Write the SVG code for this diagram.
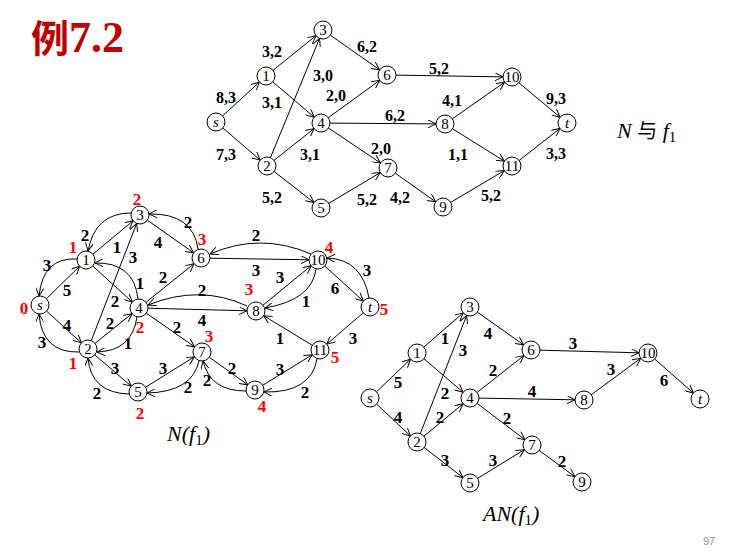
<svg xmlns="http://www.w3.org/2000/svg" width="751" height="549" viewBox="0 0 751 549">
<style>
.bg{fill:#fff}
.n circle{fill:#fff;stroke:#000;stroke-width:1}
.n text{font-family:"Liberation Serif","Times New Roman",serif;font-size:15px;text-anchor:middle;fill:#000}
.n text.i{font-style:italic}
.e path,.e line{fill:none;stroke:#000;stroke-width:1;marker-end:url(#ah)}
.el{font-family:"Liberation Serif","Times New Roman",serif;font-weight:bold;font-size:16px;text-anchor:middle;fill:#000}
.bl{font-family:"Liberation Serif","Times New Roman",serif;font-weight:bold;font-size:17px;text-anchor:middle;fill:#000}
.rl{font-family:"Liberation Serif","Times New Roman",serif;font-weight:bold;font-size:17px;text-anchor:middle;fill:#ff0000}
.cap{font-family:"Liberation Serif","Times New Roman",serif;font-style:italic;font-size:22px;fill:#000}
.ttl{font-family:"Liberation Serif","Times New Roman",serif;font-weight:bold;font-size:44px;fill:#c00000}
</style>
<defs>
<marker id="ah" viewBox="0 0 10 10" refX="10" refY="5" markerWidth="9" markerHeight="8" markerUnits="userSpaceOnUse" orient="auto">
<path d="M0,0 L10,5 L0,10" fill="none" stroke="#000" stroke-width="1.2"/>
</marker>
</defs>
<rect class="bg" x="0" y="0" width="751" height="549"/>

<text class="ttl" x="31" y="52"><tspan font-family="'Noto Sans CJK SC',sans-serif" font-size="38">例</tspan>7.2</text>

<!-- ===== Top graph: N with f1 ===== -->
<g id="top-graph">
<g id="top-connectors" class="e">
<line x1="222.6" y1="115.9" x2="259.4" y2="82.1"/>
<line x1="222.8" y1="127.9" x2="260.2" y2="160.1"/>
<line x1="273" y1="70.3" x2="316" y2="35.7"/>
<line x1="272.8" y1="81.9" x2="314.2" y2="117.1"/>
<line x1="270.4" y1="157.7" x2="319.6" y2="38.3"/>
<line x1="274" y1="160.4" x2="314" y2="128.6"/>
<line x1="274.1" y1="171.5" x2="313.9" y2="202.5"/>
<line x1="330.4" y1="35.2" x2="379.6" y2="69.8"/>
<line x1="328.3" y1="117.7" x2="379.7" y2="80.3"/>
<line x1="330" y1="123.1" x2="436" y2="123.9"/>
<line x1="328.5" y1="128" x2="380.5" y2="163"/>
<line x1="328.7" y1="203.4" x2="380.3" y2="172.6"/>
<line x1="396" y1="75.1" x2="503" y2="76.9"/>
<line x1="395.3" y1="173.2" x2="435.7" y2="201.8"/>
<line x1="452.4" y1="118.8" x2="504.6" y2="82.2"/>
<line x1="452.6" y1="128.8" x2="504.4" y2="161.2"/>
<line x1="450.7" y1="202.4" x2="504.3" y2="170.6"/>
<line x1="518.9" y1="82.8" x2="560.1" y2="117.2"/>
<line x1="519.1" y1="160.5" x2="559.9" y2="128.5"/>
</g>
<g id="top-labels">
<text class="el" x="226" y="103">8,3</text>
<text class="el" x="226" y="160">7,3</text>
<text class="el" x="272" y="57">3,2</text>
<text class="el" x="272" y="108">3,1</text>
<text class="el" x="323" y="81">3,0</text>
<text class="el" x="336" y="101">2,0</text>
<text class="el" x="310" y="160">3,1</text>
<text class="el" x="272" y="203">5,2</text>
<text class="el" x="367" y="52">6,2</text>
<text class="el" x="395" y="121">6,2</text>
<text class="el" x="381" y="154">2,0</text>
<text class="el" x="367" y="205">5,2</text>
<text class="el" x="400" y="203">4,2</text>
<text class="el" x="439" y="74">5,2</text>
<text class="el" x="452" y="106">4,1</text>
<text class="el" x="458" y="160">1,1</text>
<text class="el" x="556" y="104">9,3</text>
<text class="el" x="556" y="159">3,3</text>
<text class="el" x="491" y="201">5,2</text>
</g>
<g id="top-s" class="n"><circle cx="216" cy="122" r="9"/><text class="i" x="216" y="127">s</text></g>
<g id="top-1" class="n"><circle cx="266" cy="76" r="9"/><text x="266" y="81">1</text></g>
<g id="top-2" class="n"><circle cx="267" cy="166" r="9"/><text x="267" y="171">2</text></g>
<g id="top-3" class="n"><circle cx="323" cy="30" r="9"/><text x="323" y="35">3</text></g>
<g id="top-4" class="n"><circle cx="321" cy="123" r="9"/><text x="321" y="128">4</text></g>
<g id="top-5" class="n"><circle cx="321" cy="208" r="9"/><text x="321" y="213">5</text></g>
<g id="top-6" class="n"><circle cx="387" cy="75" r="9"/><text x="387" y="80">6</text></g>
<g id="top-7" class="n"><circle cx="388" cy="168" r="9"/><text x="388" y="173">7</text></g>
<g id="top-8" class="n"><circle cx="445" cy="124" r="9"/><text x="445" y="129">8</text></g>
<g id="top-9" class="n"><circle cx="443" cy="207" r="9"/><text x="443" y="212">9</text></g>
<g id="top-10" class="n"><circle cx="512" cy="77" r="9"/><text x="512" y="82">10</text></g>
<g id="top-11" class="n"><circle cx="512" cy="166" r="9"/><text x="512" y="171">11</text></g>
<g id="top-t" class="n"><circle cx="567" cy="123" r="9"/><text class="i" x="567" y="128">t</text></g>
<text class="cap" x="617" y="138">N <tspan font-style="normal" font-family="'Noto Sans CJK SC',sans-serif" font-size="20">与</tspan> f<tspan font-style="normal" font-size="15" dy="4">1</tspan></text>
</g>

<!-- ===== N(f1) residual network ===== -->
<g id="nf-graph">
<g id="nf-connectors" class="e">
<line x1="46.4" y1="298.7" x2="79.6" y2="266.3"/>
<line x1="46.6" y1="311.1" x2="81.4" y2="342.9"/>
<line x1="92.9" y1="254.2" x2="133.1" y2="220.8"/>
<line x1="92.7" y1="266" x2="132.3" y2="302"/>
<line x1="91.3" y1="340.6" x2="136.7" y2="223.4"/>
<line x1="95" y1="343.4" x2="132" y2="313.6"/>
<line x1="94.8" y1="354.9" x2="131.2" y2="386.1"/>
<line x1="147.4" y1="220.2" x2="193.6" y2="252.8"/>
<line x1="146" y1="302.3" x2="194" y2="263.7"/>
<line x1="148" y1="308.2" x2="247" y2="310.8"/>
<line x1="146.4" y1="313.2" x2="194.6" y2="346.8"/>
<line x1="145.6" y1="387.2" x2="194.4" y2="356.8"/>
<line x1="210" y1="258.2" x2="309" y2="259.8"/>
<line x1="209.3" y1="357.2" x2="247.7" y2="384.8"/>
<line x1="262.9" y1="305.3" x2="311.1" y2="265.7"/>
<line x1="312.3" y1="345.3" x2="263.7" y2="315.7"/>
<line x1="262.7" y1="385.3" x2="312.3" y2="354.7"/>
<line x1="324.7" y1="266" x2="363.3" y2="301"/>
<line x1="363.2" y1="312.9" x2="326.8" y2="344.1"/>
<path d="M77,259 Q43,257 39,296"/>
<path d="M79,352 Q42,353 39,314"/>
<path d="M131,213 Q95,213 88,251"/>
<path d="M138,299 Q134,262 95,263"/>
<path d="M137,317 Q132,351 97,352"/>
<path d="M129,394 Q91,393 88,358"/>
<path d="M198,249 Q193,213 149,214"/>
<path d="M247,306 Q200,284 148,305"/>
<path d="M199,361 Q192,392 147,393"/>
<path d="M246,391 Q210,391 203,361"/>
<path d="M311,254 Q260,232 210,254"/>
<path d="M316,269 Q312,300 265,308"/>
<path d="M317,359 Q311,393 264,392"/>
<path d="M369,298 Q362,259 327,258"/>
</g>
<g id="nf-labels">
<text class="bl" x="47" y="271">3</text>
<text class="bl" x="67" y="296">5</text>
<text class="bl" x="67" y="331">4</text>
<text class="bl" x="42" y="348">3</text>
<text class="bl" x="85" y="241">2</text>
<text class="bl" x="117" y="253">1</text>
<text class="bl" x="133" y="263">3</text>
<text class="bl" x="140" y="289">1</text>
<text class="bl" x="115" y="307">2</text>
<text class="bl" x="110" y="329">2</text>
<text class="bl" x="128" y="349">1</text>
<text class="bl" x="115" y="374">3</text>
<text class="bl" x="97" y="399">2</text>
<text class="bl" x="158" y="248">4</text>
<text class="bl" x="188" y="228">2</text>
<text class="bl" x="163" y="283">2</text>
<text class="bl" x="202" y="296">2</text>
<text class="bl" x="202" y="326">4</text>
<text class="bl" x="177" y="333">2</text>
<text class="bl" x="163" y="374">3</text>
<text class="bl" x="188" y="393">2</text>
<text class="bl" x="207" y="386">2</text>
<text class="bl" x="232" y="374">2</text>
<text class="bl" x="256" y="241">2</text>
<text class="bl" x="256" y="276">3</text>
<text class="bl" x="280" y="283">3</text>
<text class="bl" x="306" y="307">1</text>
<text class="bl" x="280" y="344">1</text>
<text class="bl" x="280" y="375">3</text>
<text class="bl" x="305" y="398">2</text>
<text class="bl" x="335" y="294">6</text>
<text class="bl" x="367" y="276">3</text>
<text class="bl" x="353" y="344">3</text>
<text class="rl" x="137" y="205">2</text>
<text class="rl" x="73" y="253">1</text>
<text class="rl" x="24" y="314">0</text>
<text class="rl" x="73" y="369">1</text>
<text class="rl" x="140" y="333">2</text>
<text class="rl" x="140" y="419">2</text>
<text class="rl" x="202" y="245">3</text>
<text class="rl" x="209" y="342">3</text>
<text class="rl" x="329" y="253">4</text>
<text class="rl" x="249" y="295">3</text>
<text class="rl" x="384" y="315">5</text>
<text class="rl" x="335" y="363">5</text>
<text class="rl" x="262" y="412">4</text>
</g>
<g id="nf-s" class="n"><circle cx="40" cy="305" r="9"/><text class="i" x="40" y="310">s</text></g>
<g id="nf-1" class="n"><circle cx="86" cy="260" r="9"/><text x="86" y="265">1</text></g>
<g id="nf-2" class="n"><circle cx="88" cy="349" r="9"/><text x="88" y="354">2</text></g>
<g id="nf-3" class="n"><circle cx="140" cy="215" r="9"/><text x="140" y="220">3</text></g>
<g id="nf-4" class="n"><circle cx="139" cy="308" r="9"/><text x="139" y="313">4</text></g>
<g id="nf-5" class="n"><circle cx="138" cy="392" r="9"/><text x="138" y="397">5</text></g>
<g id="nf-6" class="n"><circle cx="201" cy="258" r="9"/><text x="201" y="263">6</text></g>
<g id="nf-7" class="n"><circle cx="202" cy="352" r="9"/><text x="202" y="357">7</text></g>
<g id="nf-8" class="n"><circle cx="256" cy="311" r="9"/><text x="256" y="316">8</text></g>
<g id="nf-9" class="n"><circle cx="255" cy="390" r="9"/><text x="255" y="395">9</text></g>
<g id="nf-10" class="n"><circle cx="318" cy="260" r="9"/><text x="318" y="265">10</text></g>
<g id="nf-11" class="n"><circle cx="320" cy="350" r="9"/><text x="320" y="355">11</text></g>
<g id="nf-t" class="n"><circle cx="370" cy="307" r="9"/><text class="i" x="370" y="312">t</text></g>
<text class="cap" x="167" y="441">N(f<tspan font-style="normal" font-size="15" dy="4">1</tspan><tspan dy="-4">)</tspan></text>
</g>

<!-- ===== AN(f1) ===== -->
<g id="an-graph">
<g id="an-connectors" class="e">
<line x1="376.5" y1="391.8" x2="410.5" y2="359.2"/>
<line x1="376.6" y1="404.1" x2="410.4" y2="435.9"/>
<line x1="423.8" y1="347.1" x2="463.2" y2="312.9"/>
<line x1="423.9" y1="358.8" x2="463.1" y2="392.2"/>
<line x1="420.3" y1="433.6" x2="466.7" y2="315.4"/>
<line x1="423.9" y1="436.2" x2="463.1" y2="403.8"/>
<line x1="424.1" y1="447.5" x2="462.9" y2="477.5"/>
<line x1="477.4" y1="312.2" x2="523.6" y2="344.8"/>
<line x1="477.1" y1="392.4" x2="523.9" y2="355.6"/>
<line x1="479" y1="398.1" x2="575" y2="399.8"/>
<line x1="477.2" y1="403.4" x2="524.8" y2="439.6"/>
<line x1="477.7" y1="478.3" x2="524.3" y2="449.7"/>
<line x1="540" y1="350.2" x2="639" y2="352.8"/>
<line x1="591.3" y1="394.7" x2="640.7" y2="358.3"/>
<line x1="654.7" y1="359" x2="693.3" y2="393"/>
<line x1="539.2" y1="450.4" x2="574.8" y2="476.6"/>
</g>
<g id="an-labels">
<text class="bl" x="398" y="388">5</text>
<text class="bl" x="398" y="423">4</text>
<text class="bl" x="445" y="344">1</text>
<text class="bl" x="463" y="356">3</text>
<text class="bl" x="445" y="399">2</text>
<text class="bl" x="440" y="423">2</text>
<text class="bl" x="445" y="466">3</text>
<text class="bl" x="488" y="339">4</text>
<text class="bl" x="493" y="376">2</text>
<text class="bl" x="532" y="397">4</text>
<text class="bl" x="507" y="424">2</text>
<text class="bl" x="493" y="466">3</text>
<text class="bl" x="573" y="349">3</text>
<text class="bl" x="611" y="375">3</text>
<text class="bl" x="664" y="386">6</text>
<text class="bl" x="562" y="467">2</text>
</g>
<g id="an-s" class="n"><circle cx="370" cy="398" r="9"/><text class="i" x="370" y="403">s</text></g>
<g id="an-1" class="n"><circle cx="417" cy="353" r="9"/><text x="417" y="358">1</text></g>
<g id="an-2" class="n"><circle cx="417" cy="442" r="9"/><text x="417" y="447">2</text></g>
<g id="an-3" class="n"><circle cx="470" cy="307" r="9"/><text x="470" y="312">3</text></g>
<g id="an-4" class="n"><circle cx="470" cy="398" r="9"/><text x="470" y="403">4</text></g>
<g id="an-5" class="n"><circle cx="470" cy="483" r="9"/><text x="470" y="488">5</text></g>
<g id="an-6" class="n"><circle cx="531" cy="350" r="9"/><text x="531" y="355">6</text></g>
<g id="an-7" class="n"><circle cx="532" cy="445" r="9"/><text x="532" y="450">7</text></g>
<g id="an-8" class="n"><circle cx="584" cy="400" r="9"/><text x="584" y="405">8</text></g>
<g id="an-9" class="n"><circle cx="582" cy="482" r="9"/><text x="582" y="487">9</text></g>
<g id="an-10" class="n"><circle cx="648" cy="353" r="9"/><text x="648" y="358">10</text></g>
<g id="an-t" class="n"><circle cx="700" cy="399" r="9"/><text class="i" x="700" y="404">t</text></g>
<text class="cap" x="483" y="521">AN(f<tspan font-style="normal" font-size="15" dy="4">1</tspan><tspan dy="-4">)</tspan></text>
</g>

<text x="703" y="545" font-family="'Liberation Sans',Arial,sans-serif" font-size="11" fill="#8a96a3">97</text>
</svg>
